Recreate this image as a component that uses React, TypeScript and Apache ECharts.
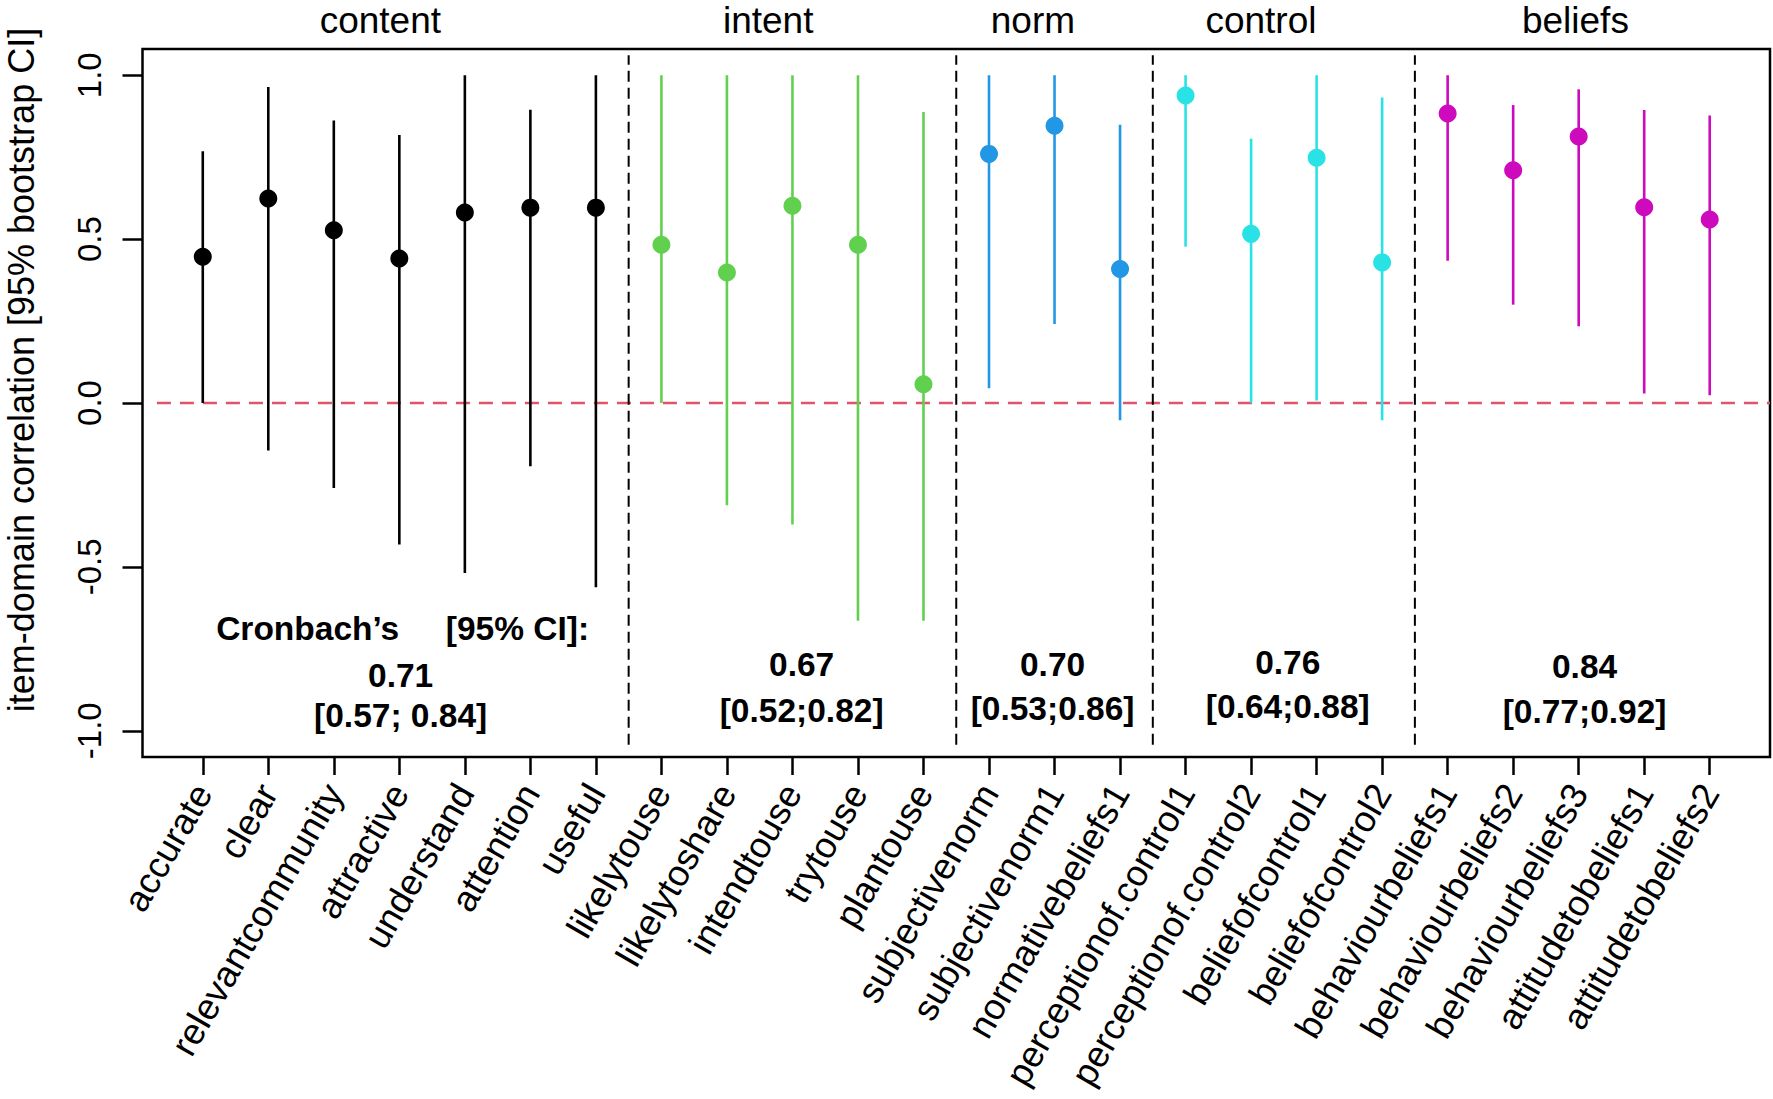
import React, { useEffect, useRef } from "react";
import * as echarts from "echarts";

// ---------- data ----------
const items = [
  "accurate", "clear", "relevantcommunity", "attractive", "understand", "attention", "useful",
  "likelytouse", "likelytoshare", "intendtouse", "trytouse", "plantouse",
  "subjectivenorm", "subjectivenorm1", "normativebeliefs1",
  "perceptionof.control1", "perceptionof.control2", "beliefofcontrol1", "beliefofcontrol2",
  "behaviourbeliefs1", "behaviourbeliefs2", "behaviourbeliefs3", "attitudetobeliefs1", "attitudetobeliefs2",
];
const itemGroup = [0, 0, 0, 0, 0, 0, 0, 1, 1, 1, 1, 1, 2, 2, 2, 3, 3, 3, 3, 4, 4, 4, 4, 4];
const estimate = [
  0.446, 0.624, 0.527, 0.441, 0.581, 0.596, 0.596,
  0.483, 0.398, 0.602, 0.483, 0.057,
  0.760, 0.846, 0.409,
  0.938, 0.516, 0.748, 0.429,
  0.883, 0.710, 0.813, 0.597, 0.560,
];
const lower = [
  0.0, -0.145, -0.259, -0.432, -0.519, -0.193, -0.562,
  0.0, -0.312, -0.371, -0.664, -0.664,
  0.045, 0.241, -0.053,
  0.477, 0.001, 0.008, -0.053,
  0.434, 0.300, 0.234, 0.029, 0.024,
];
const upper = [
  0.768, 0.964, 0.862, 0.818, 1.0, 0.895, 1.0,
  1.0, 1.0, 1.0, 1.0, 0.888,
  1.0, 1.0, 0.849,
  1.0, 0.806, 1.0, 0.932,
  1.0, 0.909, 0.957, 0.894, 0.877,
];
const groups = ["content", "intent", "norm", "control", "beliefs"];
const groupColors = ["#000000", "#61D04F", "#2297E6", "#28E2E5", "#CD0BBC"];
const groupLabelX = [3.71, 9.63, 13.67, 17.15, 21.95];
const separatorX = [7.5, 12.5, 15.5, 19.5];
const separatorRange = [-1.043, 1.061];
const zeroLineRange = [0.3, 24.92];
const yTicks = [-1, -0.5, 0, 0.5, 1];
const xMin = 0.08;
const xMax = 24.92;
const yMin = -1.08;
const yMax = 1.08;

const alphaHeader = "Cronbach\u2019s\u00A0\u00A0\u00A0\u00A0\u00A0[95% CI]:";
const alphaHeaderPos = [4.05, -0.687];
const alphaX = [4.02, 10.14, 13.97, 17.56, 22.09];
const alphaValue = ["0.71", "0.67", "0.70", "0.76", "0.84"];
const alphaValueY = [-0.83, -0.799, -0.797, -0.792, -0.804];
const alphaCI = ["[0.57; 0.84]", "[0.52;0.82]", "[0.53;0.86]", "[0.64;0.88]", "[0.77;0.92]"];
const alphaCIY = [-0.952, -0.937, -0.932, -0.927, -0.942];

const FONT = "'Liberation Sans', Arial, Helvetica, sans-serif";

export default function App() {
  const ref = useRef<HTMLDivElement>(null);

  useEffect(() => {
    if (!ref.current) return;
    const chart = echarts.init(ref.current, null, { renderer: "svg" });
    const positions = items.map((_, i) => i + 1);

    const barData = positions.map((x, i) => [x, lower[i], upper[i], itemGroup[i]]);
    const pointData = positions.map((x, i) => ({
      value: [x, estimate[i]],
      itemStyle: { color: groupColors[itemGroup[i]], opacity: 1 },
    }));
    const textData: any[] = [[alphaHeaderPos[0], alphaHeaderPos[1], alphaHeader]];
    alphaX.forEach((x, i) => {
      textData.push([x, alphaValueY[i], alphaValue[i]]);
      textData.push([x, alphaCIY[i], alphaCI[i]]);
    });

    const option: any = {
      animation: false,
      backgroundColor: "#ffffff",
      textStyle: { fontFamily: FONT },
      grid: {
        left: 142.5,
        right: 3,
        top: 49,
        bottom: 342,
        show: true,
        borderColor: "#000",
        borderWidth: 2.5,
        backgroundColor: "transparent",
        containLabel: false,
        outerBoundsMode: "none",
      },
      xAxis: [
        {
          type: "value",
          min: xMin,
          max: xMax,
          position: "bottom",
          axisLine: { show: false, onZero: false },
          splitLine: { show: false },
          axisTick: {
            show: true,
            length: 18,
            lineStyle: { color: "#000", width: 2.5 },
            customValues: positions,
          },
          axisLabel: {
            show: true,
            customValues: positions,
            rotate: 60,
            margin: 30,
            padding: [16, 0, 0, 0],
            fontSize: 36.5,
            color: "#000",
            fontFamily: FONT,
            formatter: (v: number) => items[Math.round(v) - 1] ?? "",
          },
        },
        {
          type: "value",
          min: xMin,
          max: xMax,
          position: "top",
          axisLine: { show: false, onZero: false },
          splitLine: { show: false },
          axisTick: { show: false },
          axisLabel: {
            show: true,
            customValues: groupLabelX,
            margin: 10,
            fontSize: 37,
            color: "#000",
            fontFamily: FONT,
            formatter: (v: number) => {
              const idx = groupLabelX.findIndex((g) => Math.abs(g - v) < 1e-6);
              return idx >= 0 ? groups[idx] : "";
            },
          },
        },
      ],
      yAxis: {
        type: "value",
        min: yMin,
        max: yMax,
        axisLine: { show: false, onZero: false },
        splitLine: { show: false },
        axisTick: {
          show: true,
          length: 20,
          lineStyle: { color: "#000", width: 2.5 },
          customValues: yTicks,
        },
        axisLabel: {
          show: true,
          customValues: yTicks,
          rotate: 90,
          margin: 37,
          fontSize: 33,
          color: "#000",
          fontFamily: FONT,
          formatter: (v: number) => v.toFixed(1),
        },
        name: "item-domain correlation [95% bootstrap CI]",
        nameLocation: "middle",
        nameGap: 103,
        nameTextStyle: {
          fontSize: 36,
          color: "#000",
          fontFamily: FONT,
          padding: [0, 0, 0, 66],
        },
      },
      series: [
        {
          type: "custom",
          name: "zero",
          silent: true,
          z: 1,
          data: [[zeroLineRange[0], zeroLineRange[1], 0]],
          encode: { x: [0, 1], y: 2 },
          renderItem: (params: any, api: any) => {
            const p1 = api.coord([api.value(0), api.value(2)]);
            const p2 = api.coord([api.value(1), api.value(2)]);
            return {
              type: "line",
              shape: { x1: p1[0], y1: p1[1], x2: p2[0], y2: p2[1] },
              style: { stroke: "#DF536B", lineWidth: 2.5, lineDash: [14, 9] },
            };
          },
        },
        {
          type: "custom",
          name: "separators",
          silent: true,
          z: 2,
          data: separatorX.map((x) => [x, separatorRange[0], separatorRange[1]]),
          encode: { x: 0, y: [1, 2] },
          renderItem: (params: any, api: any) => {
            const p1 = api.coord([api.value(0), api.value(1)]);
            const p2 = api.coord([api.value(0), api.value(2)]);
            return {
              type: "line",
              shape: { x1: p1[0], y1: p1[1], x2: p2[0], y2: p2[1] },
              style: { stroke: "#000", lineWidth: 2, lineDash: [11, 6] },
            };
          },
        },
        {
          type: "custom",
          name: "ci",
          silent: true,
          z: 3,
          data: barData,
          encode: { x: 0, y: [1, 2] },
          renderItem: (params: any, api: any) => {
            const x = api.value(0);
            const p1 = api.coord([x, api.value(1)]);
            const p2 = api.coord([x, api.value(2)]);
            return {
              type: "line",
              shape: { x1: p1[0], y1: p1[1], x2: p2[0], y2: p2[1] },
              style: { stroke: groupColors[api.value(3)], lineWidth: 2.6 },
            };
          },
        },
        {
          type: "scatter",
          name: "estimate",
          silent: true,
          z: 4,
          symbol: "circle",
          symbolSize: 18,
          itemStyle: { opacity: 1 },
          data: pointData,
        },
        {
          type: "scatter",
          name: "alpha",
          silent: true,
          z: 5,
          symbolSize: 1,
          itemStyle: { color: "rgba(0,0,0,0)", opacity: 1 },
          data: textData,
          label: {
            show: true,
            position: "inside",
            formatter: (p: any) => p.data[2],
            fontSize: 33.5,
            fontWeight: "bold",
            color: "#000",
            opacity: 1,
            fontFamily: FONT,
          },
        },
      ],
    };

    chart.setOption(option);
    return () => chart.dispose();
  }, []);

  return (
    <div
      ref={ref}
      style={{ position: "absolute", left: 0, top: 0, width: 1773, height: 1099, background: "#fff" }}
    />
  );
}
